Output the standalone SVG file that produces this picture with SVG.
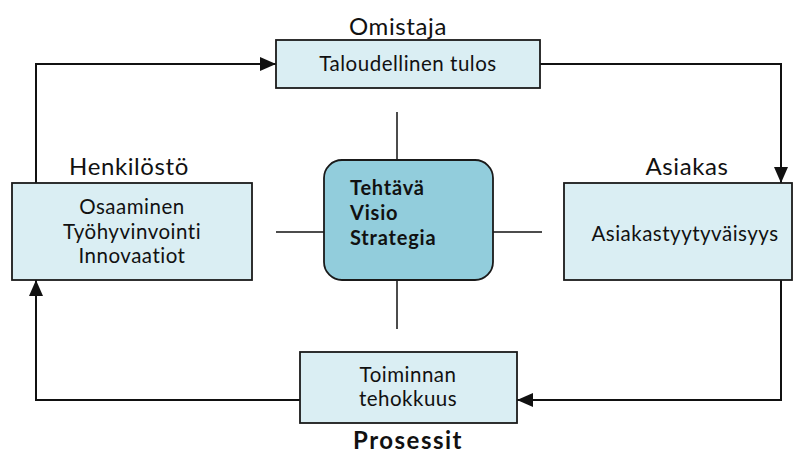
<svg xmlns="http://www.w3.org/2000/svg" width="795" height="455" viewBox="0 0 795 455">
<style>
.box{fill:#DAEEF3;stroke:#1a1a1a;stroke-width:1.8}
.core{fill:#92CDDC;stroke:#1a1a1a;stroke-width:1.8}
.t{font-family:Lato,"Open Sans",sans-serif;font-size:20.5px;letter-spacing:0.5px;fill:#111;text-anchor:middle}
.h{font-family:Lato,"Open Sans",sans-serif;font-size:24px;letter-spacing:0.6px;fill:#111;text-anchor:middle}
.b{font-family:Lato,"Open Sans",sans-serif;font-size:20px;letter-spacing:0.8px;font-weight:bold;fill:#111}
.ln{fill:none;stroke:#111;stroke-width:2}
.cr{fill:none;stroke:#111;stroke-width:1.5}
</style>
<defs>
<marker id="ah" markerWidth="16" markerHeight="14" refX="16" refY="7" orient="auto" markerUnits="userSpaceOnUse">
<path d="M0,0 L16,7 L0,14 Z" fill="#111"/>
</marker>
</defs>
<g id="connectors">
<polyline class="ln" points="36,183 36,64 276,64" marker-end="url(#ah)"/>
<polyline class="ln" points="540,64 781,64 781,183" marker-end="url(#ah)"/>
<polyline class="ln" points="781,280 781,400 517,400" marker-end="url(#ah)"/>
<polyline class="ln" points="300,400 36,400 36,280" marker-end="url(#ah)"/>
<line class="cr" x1="397" y1="112" x2="397" y2="160"/>
<line class="cr" x1="397" y1="280" x2="397" y2="329"/>
<line class="cr" x1="276" y1="232" x2="324" y2="232"/>
<line class="cr" x1="493" y1="232" x2="542" y2="232"/>
</g>
<g id="omistaja">
<text class="h" x="398" y="35">Omistaja</text>
<rect class="box" x="276" y="40" width="264" height="48"/>
<text class="t" x="408" y="71">Taloudellinen tulos</text>
</g>
<g id="henkilosto">
<text class="h" x="129" y="175">Henkilöstö</text>
<rect class="box" x="12" y="183" width="240" height="97"/>
<text class="t" x="132" y="214">Osaaminen</text>
<text class="t" x="132" y="239">Työhyvinvointi</text>
<text class="t" x="132" y="263">Innovaatiot</text>
</g>
<g id="ydin">
<rect class="core" x="324" y="160" width="169" height="120" rx="18" ry="18"/>
<text class="b" x="350" y="195">Tehtävä</text>
<text class="b" x="350" y="220">Visio</text>
<text class="b" x="350" y="245">Strategia</text>
</g>
<g id="asiakas">
<text class="h" x="687" y="175">Asiakas</text>
<rect class="box" x="564" y="183" width="228" height="97"/>
<text class="t" x="685" y="241">Asiakastyytyväisyys</text>
</g>
<g id="prosessit">
<rect class="box" x="300" y="352" width="217" height="71"/>
<text class="t" x="408" y="382">Toiminnan</text>
<text class="t" x="408" y="406">tehokkuus</text>
<text class="h" x="408" y="449" style="font-weight:bold;font-size:24px;letter-spacing:1.5px">Prosessit</text>
</g>
</svg>
